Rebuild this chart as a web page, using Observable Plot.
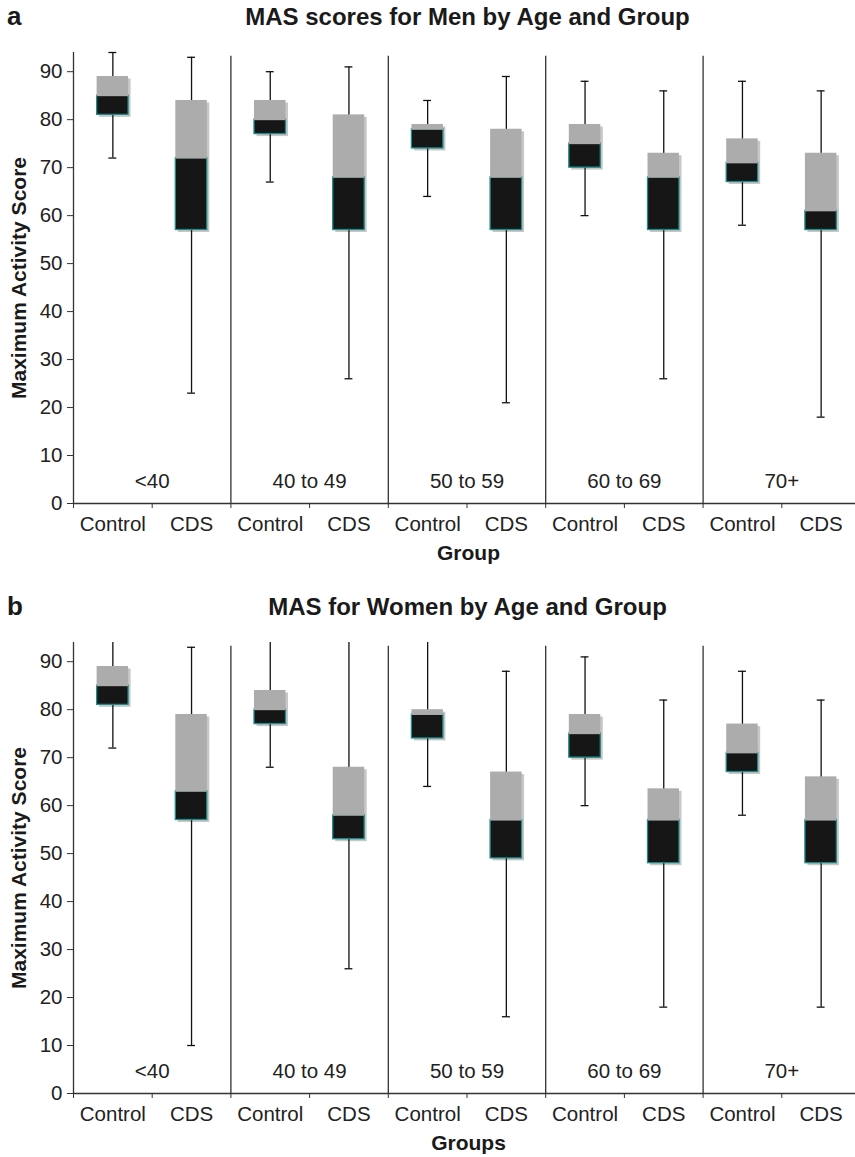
<!DOCTYPE html>
<html>
<head>
<meta charset="utf-8">
<script src="https://cdn.jsdelivr.net/npm/d3@7"></script>
<script src="https://cdn.jsdelivr.net/npm/@observablehq/plot@0.6"></script>
<style>
  html, body { margin: 0; padding: 0; background: white; }
  #wrap { position: relative; width: 855px; height: 1157px; overflow: hidden; background: white;
          font-family: "Liberation Sans", Arial, sans-serif; color: #1a1a1a; }
  .tag { position: absolute; left: 7px; font-size: 26px; line-height: 26px; font-weight: bold; }
  .title { position: absolute; left: 0; width: 935px; text-align: center; font-size: 24px; line-height: 24px; font-weight: bold; }
  .panel { position: absolute; left: 0; }
</style>
</head>
<body>
<div id="wrap">
  <div class="tag" style="top:3px">a</div>
  <div class="title" style="top:5px">MAS scores for Men by Age and Group</div>
  <div class="panel" id="pa" style="top:40px"></div>
  <div class="tag" style="top:593px">b</div>
  <div class="title" style="top:595px">MAS for Women by Age and Group</div>
  <div class="panel" id="pb" style="top:622px"></div>
</div>
<script>
// ---- data ----
const ageGroups = ["<40", "40 to 49", "50 to 59", "60 to 69", "70+"];
const groupTypes = ["Control", "CDS"];
const yTicks = [0, 10, 20, 30, 40, 50, 60, 70, 80, 90];

// order: <40 Control, <40 CDS, 40-49 Control, 40-49 CDS, ...
const menMin = [72, 23, 67, 26, 64, 21, 60, 26, 58, 18];
const menQ1  = [81, 57, 77, 57, 74, 57, 70, 57, 67, 57];
const menMed = [85, 72, 80, 68, 78, 68, 75, 68, 71, 61];
const menQ3  = [89, 84, 84, 81, 79, 78, 79, 73, 76, 73];
const menMax = [94, 93, 90, 91, 84, 89, 88, 86, 88, 86];

const womenMin = [72, 10, 68, 26, 64, 16, 60, 18, 58, 18];
const womenQ1  = [81, 57, 77, 53, 74, 49, 70, 48, 67, 48];
const womenMed = [85, 63, 80, 58, 79, 57, 75, 57, 71, 57];
const womenQ3  = [89, 79, 84, 68, 80, 67, 79, 63.5, 77, 66];
const womenMax = [100, 93, 100, 100, 100, 88, 91, 82, 88, 82];

const yMax = 94;

function rows(mins, q1s, meds, q3s, maxs) {
  return d3.range(mins.length).map(i => ({
    i, type: groupTypes[i % 2], age: ageGroups[Math.floor(i / 2)],
    min: mins[i], q1: q1s[i], med: meds[i], q3: q3s[i], max: maxs[i]
  }));
}

function panel(data, xLabel, height, marginTop, marginBottom) {
  const ages = ageGroups.map((age, g) => ({age, g}));
  const half = 0.2, cap = 0.05;
  const axisColor = "#333";
  return Plot.plot({
    width: 855, height, marginLeft: 73, marginRight: 0, marginTop, marginBottom,
    x: {domain: [0, 10], range: [73, 860], label: null},
    y: {domain: [0, yMax], label: null},
    style: {fontFamily: "'Liberation Sans', Arial, sans-serif", color: "#222", background: "white", overflow: "hidden"},
    marks: [
      // shadow
      Plot.rect(data, {x1: d => d.i + 0.5 - half, x2: d => d.i + 0.5 + half, y1: "q1", y2: "q3",
        fill: "#b4b4b4", fillOpacity: 0.75, dx: 2.5, dy: 2.5}),
      // whiskers
      Plot.ruleX(data, {x: d => d.i + 0.5, y1: "min", y2: "max", stroke: "#111", strokeWidth: 1.3, clip: true}),
      Plot.ruleY(data.filter(d => d.max <= yMax), {y: "max", x1: d => d.i + 0.5 - cap, x2: d => d.i + 0.5 + cap, stroke: "#111", strokeWidth: 1.3}),
      Plot.ruleY(data, {y: "min", x1: d => d.i + 0.5 - cap, x2: d => d.i + 0.5 + cap, stroke: "#111", strokeWidth: 1.3}),
      // lower box (q1 - median)
      Plot.rect(data, {x1: d => d.i + 0.5 - half, x2: d => d.i + 0.5 + half, y1: "q1", y2: "med",
        fill: "#161616", stroke: "#1f8b8b", strokeWidth: 1.3}),
      // upper box (median - q3)
      Plot.rect(data, {x1: d => d.i + 0.5 - half, x2: d => d.i + 0.5 + half, y1: "med", y2: "q3",
        fill: "#acacac", insetBottom: -1}),
      // age group dividers
      Plot.ruleX([2, 4, 6, 8], {y1: 0, y2: 93.2, stroke: axisColor, strokeWidth: 1.3}),
      // axis lines
      Plot.ruleX([0], {y1: 0, y2: yMax, stroke: axisColor, strokeWidth: 1.3}),
      Plot.ruleY([0], {stroke: axisColor, strokeWidth: 1.3}),
      Plot.axisY({ticks: yTicks, tickSize: 6, tickPadding: 5, fontSize: 20.5, label: null, stroke: axisColor}),
      Plot.axisX({ticks: d3.range(0, 11), tickSize: 5, tickFormat: () => "", label: null, stroke: axisColor}),
      Plot.axisX({ticks: d3.range(10).map(i => i + 0.5), tickSize: 0, tickPadding: 13, fontSize: 20.5, label: null,
        tickFormat: v => groupTypes[Math.floor(v) % 2]}),
      // age group labels
      Plot.text(ages, {x: d => d.g * 2 + 1, y: 3.2, text: "age", lineAnchor: "bottom", fontSize: 20.5, fill: "#222"}),
      // axis titles
      Plot.text(["Maximum Activity Score"], {frameAnchor: "left", textAnchor: "middle", lineAnchor: "middle",
        rotate: -90, dx: -54, fontSize: 21, fontWeight: "bold", fill: "#1a1a1a"}),
      Plot.text([xLabel], {frameAnchor: "bottom", textAnchor: "middle", lineAnchor: "middle",
        dx: 4, dy: 50, fontSize: 21, fontWeight: "bold", fill: "#1a1a1a"})
    ]
  });
}

document.getElementById("pa").append(
  panel(rows(menMin, menQ1, menMed, menQ3, menMax), "Group", 530, 12, 67));
document.getElementById("pb").append(
  panel(rows(womenMin, womenQ1, womenMed, womenQ3, womenMax), "Groups", 535, 20, 64));
</script>
</body>
</html>
